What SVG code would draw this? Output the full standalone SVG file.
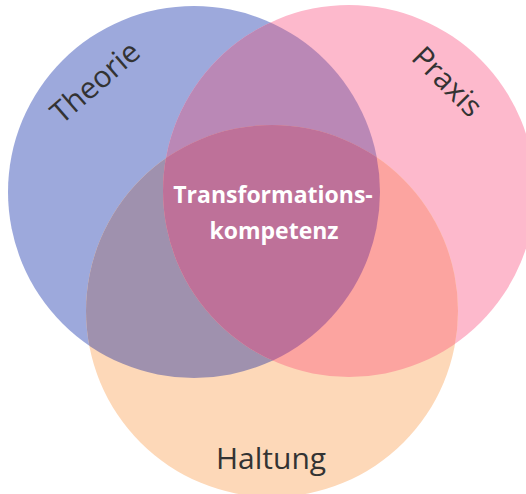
<svg xmlns="http://www.w3.org/2000/svg" width="526" height="494" viewBox="0 0 526 494">
  <style>
    .label { font-family: "Open Sans", "Liberation Sans", sans-serif; fill: #333333; font-size: 30px; }
    .core { font-family: "Open Sans", "Liberation Sans", sans-serif; fill: #ffffff; font-size: 23px; font-weight: 700; text-anchor: middle; }
  </style>
  <defs>
    <clipPath id="clipTheorie"><circle cx="194" cy="192" r="186"/></clipPath>
    <clipPath id="clipPraxis"><circle cx="349" cy="191" r="186"/></clipPath>
    <clipPath id="clipHaltung"><circle cx="272" cy="311" r="186"/></clipPath>
  </defs>
  <rect width="526" height="494" fill="#ffffff"/>

  <!-- base circles -->
  <g id="theorie">
    <circle cx="194" cy="192" r="186" fill="#9DA9DC"/>
  </g>
  <g id="praxis">
    <circle cx="349" cy="191" r="186" fill="#FDB9CC"/>
  </g>
  <g id="haltung">
    <circle cx="272" cy="311" r="186" fill="#FDD8B8"/>
  </g>

  <!-- overlap regions -->
  <g id="overlaps">
    <circle cx="349" cy="191" r="186" fill="#BA88B6" clip-path="url(#clipTheorie)"/>
    <circle cx="272" cy="311" r="186" fill="#9F91AE" clip-path="url(#clipTheorie)"/>
    <circle cx="272" cy="311" r="186" fill="#FCA4A0" clip-path="url(#clipPraxis)"/>
    <g clip-path="url(#clipHaltung)">
      <circle cx="349" cy="191" r="186" fill="#BE7199" clip-path="url(#clipTheorie)"/>
    </g>
  </g>

  <!-- labels -->
  <g id="labels">
    <text class="label" text-anchor="middle" transform="translate(102,90) rotate(-41)">Theorie</text>
    <text class="label" text-anchor="middle" transform="translate(440,89) rotate(45)">Praxis</text>
    <text class="label" text-anchor="middle" x="271" y="469">Haltung</text>
  </g>
  <g id="transformationskompetenz">
    <text class="core" x="273" y="203">Transformations-</text>
    <text class="core" x="274" y="239">kompetenz</text>
  </g>
</svg>
